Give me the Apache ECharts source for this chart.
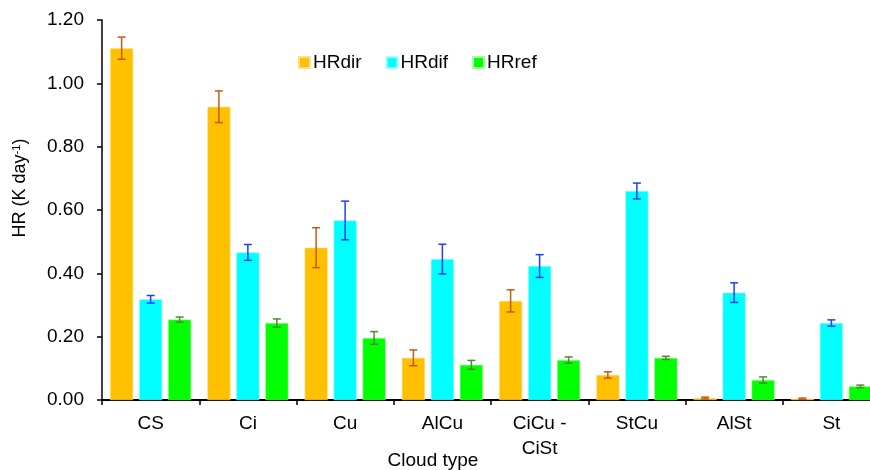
<!DOCTYPE html>
<html>
<head>
<meta charset="utf-8">
<style>
    html, body { margin: 0; padding: 0; background: #fff; }
    #main { width: 870px; height: 470px; }
</style>
</head>
<body>
<div id="main"></div>
<script src="https://cdn.jsdelivr.net/npm/echarts@6/dist/echarts.min.js"></script>
<script>
    // 云类型
    var cloudTypes = ['CS', 'Ci', 'Cu', 'AlCu', 'CiCu -\nCiSt', 'StCu', 'AlSt', 'St'];
    var yTicks = [0, 0.2, 0.4, 0.6, 0.8, 1.0, 1.2];

    // 柱高
    var hrDir = [1.111, 0.926, 0.481, 0.133, 0.313, 0.079, 0.006, 0.004];
    var hrDif = [0.318, 0.466, 0.567, 0.445, 0.423, 0.660, 0.339, 0.243];
    var hrRef = [0.254, 0.243, 0.196, 0.111, 0.126, 0.133, 0.063, 0.043];

    // 误差
    var errDir = [0.035, 0.050, 0.063, 0.025, 0.035, 0.010, 0.003, 0.002];
    var errDif = [0.012, 0.025, 0.061, 0.047, 0.036, 0.025, 0.031, 0.010];
    var errRef = [0.008, 0.013, 0.020, 0.014, 0.010, 0.005, 0.010, 0.004];

    var font = 'Liberation Sans, Arial, sans-serif';

    function errData(vals, errs) {
        return vals.map(function (v, i) { return [i, v, errs[i]]; });
    }

    // 误差线
    function errRender(offset, color) {
        return function (params, api) {
            var i = api.value(0), v = api.value(1), e = api.value(2);
            var hi = api.coord([i, v + e]);
            var lo = api.coord([i, v - e]);
            var x = hi[0] + offset;
            var style = { stroke: color, lineWidth: 1.5 };
            return {
                type: 'group',
                children: [
                    { type: 'line', shape: { x1: x, y1: hi[1], x2: x, y2: lo[1] }, style: style },
                    { type: 'line', shape: { x1: x - 4, y1: hi[1], x2: x + 4, y2: hi[1] }, style: style },
                    { type: 'line', shape: { x1: x - 4, y1: lo[1], x2: x + 4, y2: lo[1] }, style: style }
                ]
            };
        };
    }

    var myChart = echarts.init(document.getElementById('main'));
    var option = {
        animation: false,
        backgroundColor: '#fff',
        textStyle: { fontFamily: font },
        grid: { left: 102, top: 20, right: -10, bottom: 70, outerBoundsMode: 'none', containLabel: false },
        legend: {
            data: ['HRdir', 'HRdif', 'HRref'],
            left: 293, top: 48,
            itemWidth: 11, itemHeight: 11, itemGap: 24,
            icon: 'rect',
            textStyle: { fontSize: 19, color: '#000', fontFamily: font, padding: [0, 0, 0, -2] }
        },
        xAxis: {
            type: 'category',
            data: cloudTypes,
            name: 'Cloud type',
            nameLocation: 'middle',
            nameGap: 51,
            nameMoveOverlap: false,
            nameTextStyle: { fontSize: 19, color: '#000', padding: [0, 116, 0, 0] },
            axisLine: { lineStyle: { color: '#000', width: 2 } },
            axisTick: { show: true, length: 5, lineStyle: { color: '#000', width: 1.5 } },
            axisLabel: { fontSize: 19, color: '#000', margin: 11, lineHeight: 25 }
        },
        yAxis: {
            type: 'value',
            min: 0, max: 1.2, interval: 0.2,
            name: '{a|HR (K day}{s|-1}{a|)}',
            nameLocation: 'middle',
            nameGap: 72,
            nameRotate: 90,
            nameMoveOverlap: false,
            nameTextStyle: {
                padding: [0, 0, 0, 44],
                rich: {
                    a: { fontSize: 18, color: '#000', fontFamily: font },
                    s: { fontSize: 11, color: '#000', fontFamily: font, verticalAlign: 'top', padding: [0, 0, 8, 0] }
                }
            },
            splitLine: { show: false },
            axisLine: { show: true, lineStyle: { color: '#000', width: 1.5 } },
            axisTick: { show: true, length: 5, lineStyle: { color: '#000', width: 1.5 } },
            axisLabel: {
                fontSize: 19, color: '#000', margin: 18,
                formatter: function (v) { return v.toFixed(2); }
            }
        },
        series: [
            { name: 'HRdir', type: 'bar', data: hrDir, barWidth: 23, barGap: '26%',
              itemStyle: { color: '#ffc000', borderColor: '#ffe08a', borderWidth: 0.5 } },
            { name: 'HRdif', type: 'bar', data: hrDif, barWidth: 23, barGap: '26%',
              itemStyle: { color: '#00ffff', borderColor: '#a0ffff', borderWidth: 0.5 } },
            { name: 'HRref', type: 'bar', data: hrRef, barWidth: 23, barGap: '26%',
              itemStyle: { color: '#00ff00', borderColor: '#a0ffa0', borderWidth: 0.5 } },
            { type: 'custom', name: 'errDir', data: errData(hrDir, errDir), encode: { x: 0, y: 1 },
              renderItem: errRender(-29, '#c55a11'), z: 5 },
            { type: 'custom', name: 'errDif', data: errData(hrDif, errDif), encode: { x: 0, y: 1 },
              renderItem: errRender(0, '#1f3cff'), z: 5 },
            { type: 'custom', name: 'errRef', data: errData(hrRef, errRef), encode: { x: 0, y: 1 },
              renderItem: errRender(29, '#4f8a2e'), z: 5 }
        ]
    };
    myChart.setOption(option);
</script>
</body>
</html>
